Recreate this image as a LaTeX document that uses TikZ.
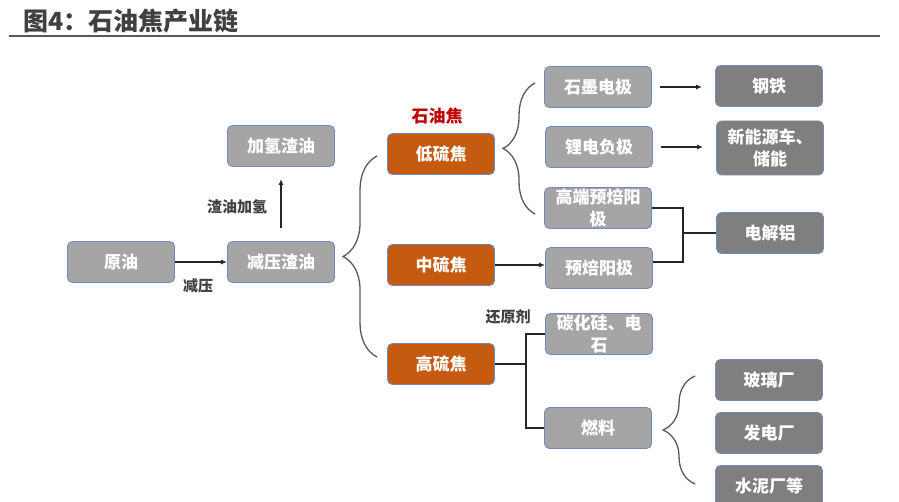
\documentclass[tikz,border=0pt]{standalone}
\usepackage{fontspec}
\setmainfont{Noto Sans CJK SC}
\usetikzlibrary{arrows.meta,decorations.pathreplacing}

\definecolor{boxgray}{HTML}{A5A5A5}
\definecolor{boxdark}{HTML}{7F7F7F}
\definecolor{boxorange}{HTML}{C55A11}
\definecolor{boxedge}{HTML}{7189B6}
\definecolor{notegray}{HTML}{404040}
\definecolor{titlegray}{HTML}{404040}
\definecolor{rulegray}{HTML}{595959}
\definecolor{bracegray}{HTML}{595959}
\definecolor{cokered}{HTML}{C00000}

\tikzset{
  lightbox/.style={draw=boxedge, line width=0.9pt, fill=boxgray, rounded corners=5pt,
    minimum width=107pt, minimum height=41pt, inner sep=1pt, align=center,
    text=white, font=\fontsize{17}{22}\selectfont\bfseries},
  darkbox/.style={lightbox, fill=boxdark},
  cokebox/.style={lightbox, fill=boxorange},
  note/.style={text=notegray, inner sep=0pt, font=\fontsize{15}{17}\selectfont\bfseries},
  link/.style={line width=1.5pt, black!85},
  arrowlink/.style={link, -{Latex[length=6pt,width=5pt]}},
  bracelink/.style={decorate, decoration={brace, amplitude=#1}, line width=1.3pt, draw=bracegray}
}

\begin{document}
\begin{tikzpicture}[x=1pt,y=-1pt]

        \clip (0,0) rectangle (899,502);

        %Title
        \node [anchor=west, inner sep=0pt, text=titlegray, font=\fontsize{25}{28}\selectfont\bfseries] (title) at (23,21) {图4：石油焦产业链};
        \draw [line width=2.5pt, rulegray] (9,36) -- (880,36);

        %Crude oil and residue
        \node [lightbox] (yuanyou) at (121,262) {原油};
        \node [lightbox] (jianya) at (281,262) {减压渣油};
        \node [lightbox] (jiaqing) at (281,146) {加氢渣油};
        \draw [arrowlink] (yuanyou) -- (jianya);
        \node [note] (jianyalbl) at (198,286) {减压};
        \draw [arrowlink, shorten <=13pt, shorten >=12pt] (jianya) -- (jiaqing);
        \node [note] (jiaqinglbl) at (237,207) {渣油加氢};

        %Petroleum coke
        \node [font=\fontsize{17}{20}\selectfont\bfseries, text=cokered, inner sep=0pt] (coke) at (437,116) {石油焦};
        \node [cokebox] (disulf) at (441,154) {低硫焦};
        \node [cokebox] (zhongsulf) at (441,265) {中硫焦};
        \node [cokebox] (gaosulf) at (441,364) {高硫焦};
        \draw [bracelink=34pt] ([xshift=-10pt,yshift=7pt]gaosulf.west) -- ([xshift=-10pt,yshift=-2pt]disulf.west);

        %Low sulfur coke
        \node [lightbox] (shimo) at (598,87) {石墨电极};
        \node [lightbox] (lidian) at (599,147) {锂电负极};
        \node [lightbox] (gaoduan) at (598,208) {高端预焙阳\\极};
        \node [darkbox] (gangtie) at (769,86) {钢铁};
        \node [darkbox, minimum height=54pt] (xinneng) at (770,148) {新能源车、\\储能};
        \draw [bracelink=32pt] ([xshift=-9pt,yshift=-6pt]gaoduan.west) -- ([xshift=-9pt,yshift=4pt]shimo.west);
        \draw [arrowlink, shorten <=8pt, shorten >=13pt] (shimo.east) -- (shimo.east -| gangtie.west);
        \draw [arrowlink, shorten <=8pt, shorten >=13pt] (lidian.east) -- (lidian.east -| xinneng.west);

        %Medium sulfur coke
        \node [lightbox] (yubei) at (599,268) {预焙阳极};
        \node [darkbox] (dianjie) at (770,233) {电解铝};
        \draw [arrowlink] (zhongsulf.east) -- (zhongsulf.east -| yubei.west);
        \draw [link] (gaoduan.east) -- ++(31,0) |- ([yshift=6pt]yubei.east);
        \draw [link] (dianjie.west) -- ++(-33,0);

        %High sulfur coke
        \node [note] (huanyuan) at (508,317) {还原剂};
        \node [lightbox] (tanhua) at (599,334) {碳化硅、电\\石};
        \node [lightbox] (ranliao) at (598,428) {燃料};
        \draw [link] (gaosulf.east) -- ++(31,0) coordinate (gsfork) |- (tanhua.west);
        \draw [link] (gsfork) |- (ranliao.west);

        %Fuel users
        \node [darkbox] (boli) at (769,380) {玻璃厂};
        \node [darkbox] (fadian) at (769,433) {发电厂};
        \node [darkbox] (shuini) at (769,486) {水泥厂等};
        \draw [bracelink=32pt] ([xshift=-20pt,yshift=2pt]shuini.west) -- ([xshift=-20pt,yshift=4pt]boli.west);

\end{tikzpicture}
\end{document}
